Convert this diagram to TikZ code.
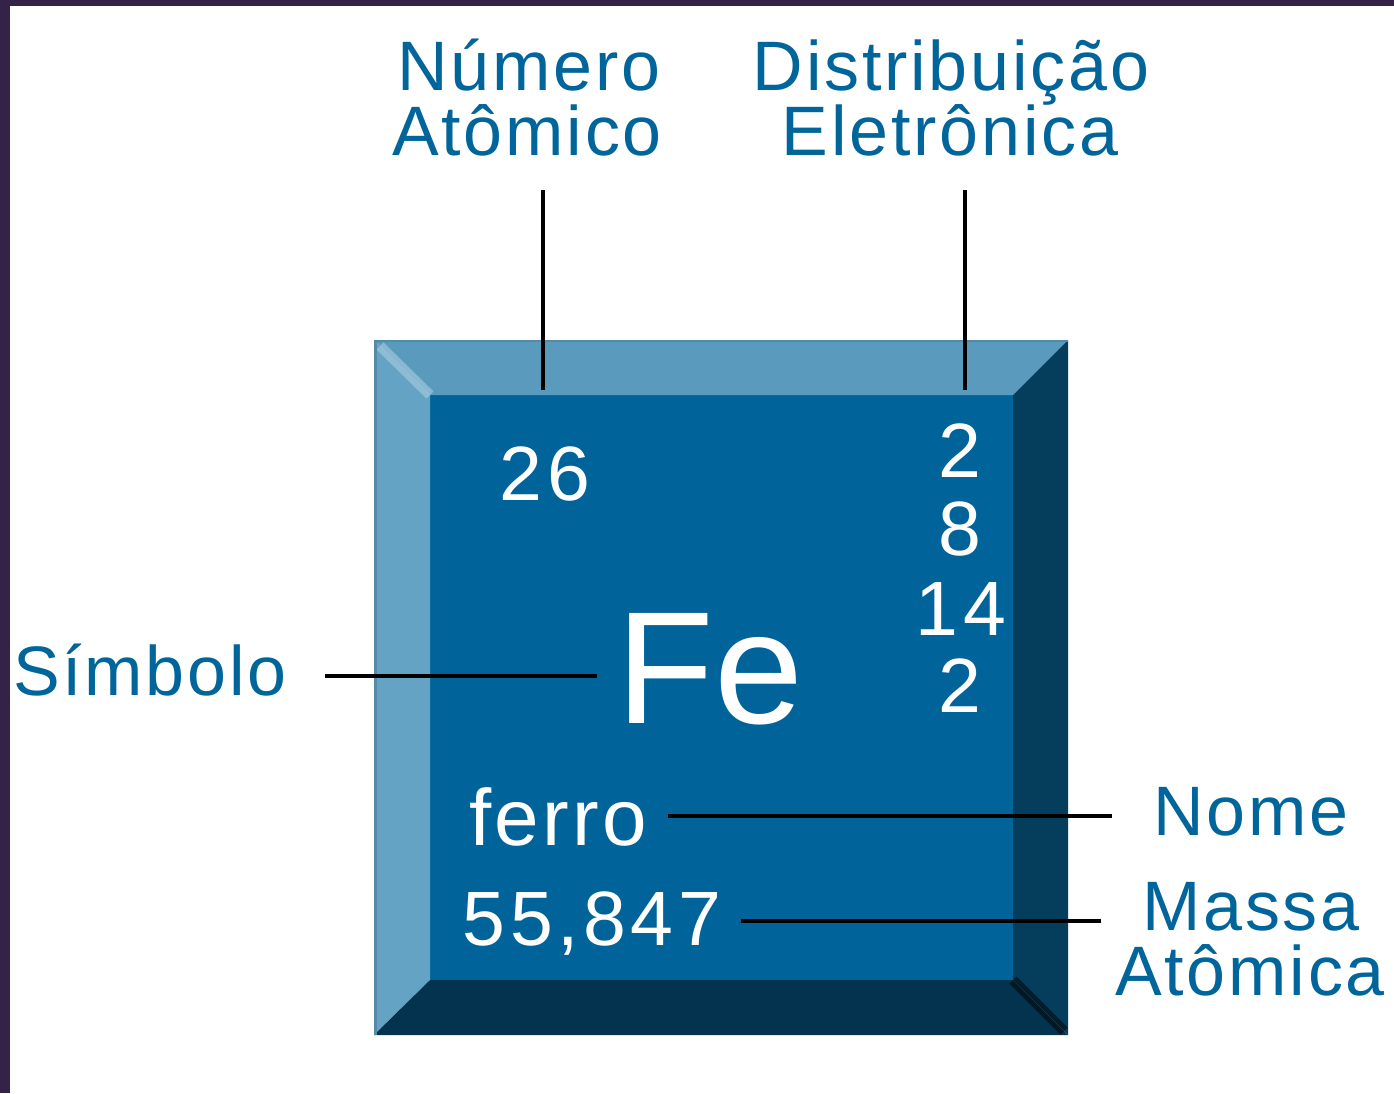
\documentclass[tikz,border=0pt]{standalone}
\usepackage{fontspec}
\setmainfont{Liberation Sans}
\usepackage{tikz}
\usepackage{xcolor}

\definecolor{frame}{HTML}{352248}
\definecolor{lblblue}{HTML}{00659B}
\definecolor{face}{HTML}{00649A}
\definecolor{bevtop}{HTML}{5A9ABD}
\definecolor{bevleft}{HTML}{64A3C4}
\definecolor{bevright}{HTML}{053D5C}
\definecolor{bevbottom}{HTML}{04334F}
\definecolor{shine}{HTML}{A9CEE1}
\definecolor{shade}{HTML}{022A40}

\tikzset{
  lbl/.style={text=lblblue, anchor=base, inner sep=0pt, font=\fontsize{70}{67}\selectfont\addfontfeatures{LetterSpace=4}},
  val/.style={text=white, anchor=base, inner sep=0pt, font=\fontsize{77}{77}\selectfont\addfontfeatures{LetterSpace=6}},
  conn/.style={line width=4pt, black}
}

\begin{document}
\begin{tikzpicture}[x=1pt,y=-1pt]
\useasboundingbox (0,0) rectangle (1394,1093);
% Frame
\fill[frame] (0,0) rectangle (1394,1093);
\fill[white] (10,6) rectangle (1394,1093);

% Box with bevel
\fill[face] (430,395) rectangle (1013,980);
\fill[bevtop] (374,340) -- (1068,340) -- (1013,395) -- (430,395) -- cycle;
\fill[bevleft] (374,340) -- (430,395) -- (430,980) -- (374,1035) -- cycle;
\fill[bevright] (1068,340) -- (1068,1035) -- (1013,980) -- (1013,395) -- cycle;
\fill[bevbottom] (374,1035) -- (1068,1035) -- (1013,980) -- (430,980) -- cycle;
\draw[shine, opacity=0.6, line width=10pt] (380,346) -- (430,395);
\draw[shade, opacity=0.5, line width=10pt] (1013,980) -- (1064,1031);
\draw[line width=3pt, color=bevleft!85!black] (375.5,340) -- (375.5,1035);
\draw[line width=2pt, color=bevtop!90!black] (374,341) -- (1068,341);

% Labels
\node[lbl] (num1) at (529,90) {Número};
\node[lbl] (num2) at (527,155) {Atômico};
\node[lbl] (dist1) at (951,90) {Distribuição};
\node[lbl] (dist2) at (950,155) {Eletrônica};
\node[lbl] (simb) at (150,695) {Símbolo};
\node[lbl] (nome) at (1251,835) {Nome};
\node[lbl] (massa1) at (1251,930) {Massa};
\node[lbl] (massa2) at (1250,995) {Atômica};

% Values in the box
\node[val] (z) at (545,500) {26};
\node[val] (e1) at (960,477) {2};
\node[val] (e2) at (960,555) {8};
\node[val] (e3) at (961,635) {14};
\node[val] (e4) at (960,712) {2};
\node[val, font=\fontsize{160}{160}\selectfont] (fe) at (710,723) {Fe};
\node[val, font=\fontsize{80}{80}\selectfont\addfontfeatures{LetterSpace=4}] (ferro) at (558,845) {ferro};
\node[val] (mass) at (592,945) {55,847};

% Connectors
\coordinate (numa) at (543,190);
\coordinate (numb) at (543,390);
\coordinate (dista) at (965,190);
\coordinate (distb) at (965,390);
\coordinate (simba) at (325,676);
\coordinate (simbb) at (597,676);
\coordinate (nomea) at (668,816);
\coordinate (nomeb) at (1112,816);
\coordinate (massa) at (741,921);
\coordinate (massb) at (1101,921);
\draw[conn] (numa) -- (numb);
\draw[conn] (dista) -- (distb);
\draw[conn] (simba) -- (simbb);
\draw[conn] (nomea) -- (nomeb);
\draw[conn] (massa) -- (massb);
\end{tikzpicture}
\end{document}
